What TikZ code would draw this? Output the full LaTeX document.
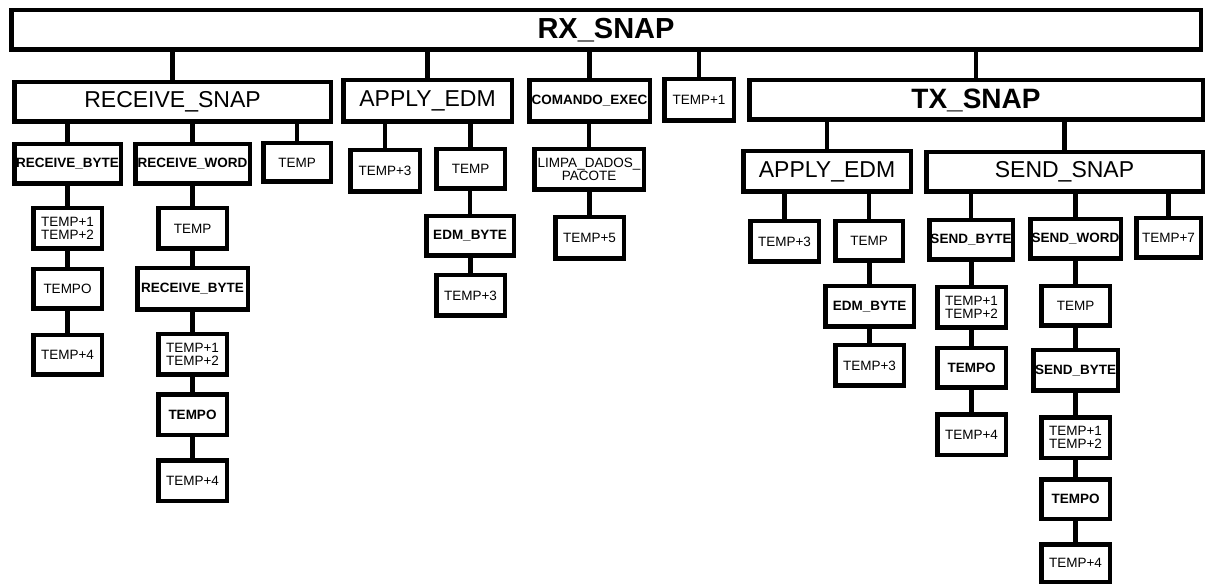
\documentclass[tikz,border=0pt]{standalone}
\usepackage{fontspec}
\setmainfont{Liberation Sans}
\begin{document}
\begin{tikzpicture}[x=1pt,y=-1pt,
  box/.style={draw=black,line width=4.5pt,inner sep=0pt,fill=white},
  conn/.style={draw=black,line width=4.5pt},
  fbig/.style={font=\fontsize{29}{29}\selectfont\bfseries},
  ftx/.style={font=\fontsize{28}{28}\selectfont\bfseries},
  fmid/.style={font=\fontsize{23}{23}\selectfont},
  fsm/.style={font=\fontsize{13.5}{13.5}\selectfont},
  fsmb/.style={font=\fontsize{13.5}{13.5}\selectfont\bfseries},
  ftwo/.style={font=\fontsize{13.5}{13.3}\selectfont,align=center}]
% canvas
\fill[white] (0,0) rectangle (1208,585);
\useasboundingbox (0,0) rectangle (1208,585);
% box from outer corners: name, x1, y1, x2, y2, style, text
\newcommand\bx[7]{\node[box,#6,minimum width={(#4-#2-4.5)*1pt},minimum height={(#5-#3-4.5)*1pt}] (#1) at ({(#2+#4)/2},{(#3+#5)/2}) {#7};}
\newcommand\cl[1]{\makebox[0pt]{#1}}
% vertical link from a parent's bottom edge down to a child's top
\newcommand\link[2]{\draw[conn] (#2.north) -- (#2.north |- #1.south);}

% top level
\bx{rx}{9}{8}{1203}{52}{fbig}{\cl{RX\_SNAP}}
\bx{rsnap}{12}{80}{333}{124}{fmid}{\cl{RECEIVE\_SNAP}}
\bx{apply}{341}{78}{514}{124}{fmid}{\cl{APPLY\_EDM}}
\bx{cmd}{527}{78}{652}{124}{fsmb}{\cl{COMANDO\_EXEC}}
\bx{tone}{662}{77}{736}{123}{fsm}{\cl{TEMP+1}}
\bx{tx}{747}{78}{1205}{122}{ftx}{\cl{TX\_SNAP}}

% RECEIVE_SNAP branch
\bx{rbyte}{12}{142}{123}{186}{fsmb}{\cl{RECEIVE\_BYTE}}
\bx{rword}{133}{142}{252}{186}{fsmb}{\cl{RECEIVE\_WORD}}
\bx{rtemp}{261}{141}{333}{184}{fsm}{\cl{TEMP}}
\bx{a1}{31}{206}{104}{251}{ftwo}{TEMP+1\\TEMP+2}
\bx{a2}{31}{267}{104}{311}{fsm}{\cl{TEMPO}}
\bx{a3}{31}{333}{104}{377}{fsm}{\cl{TEMP+4}}
\bx{b1}{156}{206}{229}{251}{fsm}{\cl{TEMP}}
\bx{b2}{135}{266}{250}{312}{fsmb}{\cl{RECEIVE\_BYTE}}
\bx{b3}{156}{332}{229}{377}{ftwo}{TEMP+1\\TEMP+2}
\bx{b4}{156}{392}{229}{437}{fsmb}{\cl{TEMPO}}
\bx{b5}{156}{458}{229}{503}{fsm}{\cl{TEMP+4}}

% APPLY_EDM branch
\bx{c1}{348}{148}{422}{194}{fsm}{\cl{TEMP+3}}
\bx{c2}{434}{147}{507}{191}{fsm}{\cl{TEMP}}
\bx{c3}{424}{214}{516}{258}{fsmb}{\cl{EDM\_BYTE}}
\bx{c4}{434}{273}{507}{318}{fsm}{\cl{TEMP+3}}

% COMANDO_EXEC branch
\bx{d1}{532}{147}{646}{192}{ftwo}{\cl{LIMPA\_DADOS\_}\\PACOTE}
\bx{d2}{553}{215}{626}{261}{fsm}{\cl{TEMP+5}}

% TX_SNAP branch
\bx{apply2}{741}{149}{913}{194}{fmid}{\cl{APPLY\_EDM}}
\bx{ssnap}{924}{150}{1205}{194}{fmid}{\cl{SEND\_SNAP}}
\bx{e1}{748}{219}{821}{264}{fsm}{\cl{TEMP+3}}
\bx{e2}{833}{219}{905}{263}{fsm}{\cl{TEMP}}
\bx{e3}{823}{284}{916}{329}{fsmb}{\cl{EDM\_BYTE}}
\bx{e4}{833}{343}{906}{388}{fsm}{\cl{TEMP+3}}
\bx{f}{927}{218}{1015}{262}{fsmb}{\cl{SEND\_BYTE}}
\bx{f1}{935}{285}{1008}{330}{ftwo}{TEMP+1\\TEMP+2}
\bx{f2}{935}{346}{1008}{390}{fsmb}{\cl{TEMPO}}
\bx{f3}{935}{412}{1008}{457}{fsm}{\cl{TEMP+4}}
\bx{g}{1028}{217}{1123}{261}{fsmb}{\cl{SEND\_WORD}}
\bx{g1}{1039}{284}{1112}{328}{fsm}{\cl{TEMP}}
\bx{g2}{1031}{348}{1120}{393}{fsmb}{\cl{SEND\_BYTE}}
\bx{g3}{1039}{415}{1112}{460}{ftwo}{TEMP+1\\TEMP+2}
\bx{g4}{1039}{477}{1112}{521}{fsmb}{\cl{TEMPO}}
\bx{g5}{1039}{542}{1112}{584}{fsm}{\cl{TEMP+4}}
\bx{h}{1134}{216}{1203}{260}{fsm}{\cl{TEMP+7}}

% links
\link{rx}{rsnap}\link{rx}{apply}\link{rx}{cmd}\link{rx}{tone}\link{rx}{tx}
\link{rsnap}{rbyte}\link{rsnap}{rword}\link{rsnap}{rtemp}
\link{rbyte}{a1}\link{a1}{a2}\link{a2}{a3}
\link{rword}{b1}\link{b1}{b2}\link{b2}{b3}\link{b3}{b4}\link{b4}{b5}
\link{apply}{c1}\link{apply}{c2}\link{c2}{c3}\link{c3}{c4}
\link{cmd}{d1}\link{d1}{d2}
\link{tx}{apply2}\link{tx}{ssnap}
\link{apply2}{e1}\link{apply2}{e2}\link{e2}{e3}\link{e3}{e4}
\link{ssnap}{f}\link{f}{f1}\link{f1}{f2}\link{f2}{f3}
\link{ssnap}{g}\link{g}{g1}\link{g1}{g2}\link{g2}{g3}\link{g3}{g4}\link{g4}{g5}
\link{ssnap}{h}
\end{tikzpicture}
\end{document}
